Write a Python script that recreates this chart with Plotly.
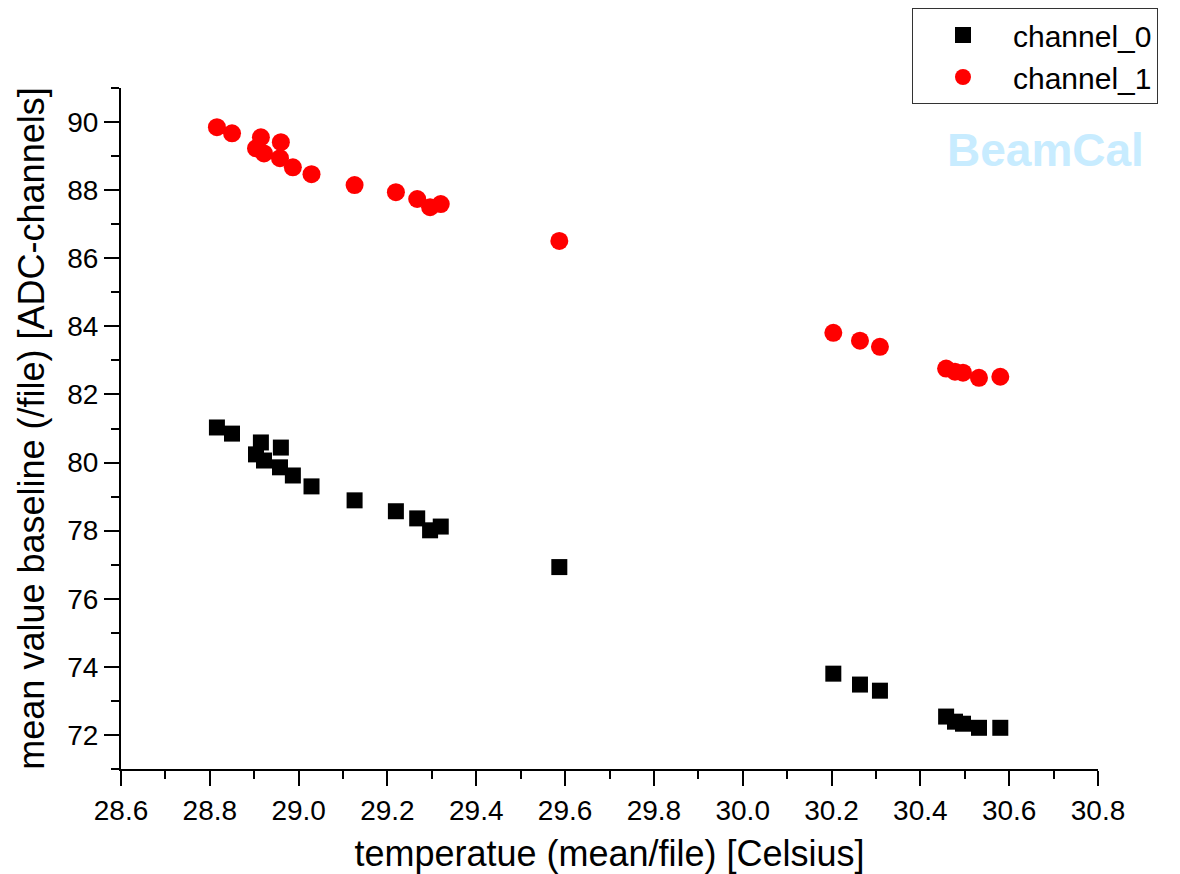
import plotly.graph_objects as go

temperature = [28.816, 28.850, 28.915, 28.904, 28.922, 28.960, 28.958, 28.987, 29.029,
               29.126, 29.219, 29.267, 29.296, 29.320, 29.587, 30.204, 30.264, 30.309,
               30.458, 30.478, 30.496, 30.532, 30.580]
channel_0 = [81.03, 80.85, 80.59, 80.24, 80.06, 80.44, 79.86, 79.62, 79.30,
             78.89, 78.57, 78.36, 78.01, 78.12, 76.93, 73.80, 73.48, 73.30,
             72.54, 72.39, 72.33, 72.21, 72.21]
channel_1 = [89.85, 89.67, 89.55, 89.23, 89.08, 89.41, 88.94, 88.67, 88.47,
             88.15, 87.94, 87.74, 87.50, 87.59, 86.51, 83.81, 83.58, 83.40,
             82.76, 82.67, 82.64, 82.49, 82.52]

FONT = "Liberation Sans, Arial, sans-serif"

fig = go.Figure()
fig.add_trace(go.Scatter(x=temperature, y=channel_0, mode="markers", name="channel_0",
                         marker=dict(symbol="square", size=16, color="black", line=dict(width=0))))
fig.add_trace(go.Scatter(x=temperature, y=channel_1, mode="markers", name="channel_1",
                         marker=dict(symbol="circle", size=18, color="#ff0000", line=dict(width=0))))

axis_common = dict(
    showline=True, linecolor="black", linewidth=2, mirror=False,
    ticks="outside", ticklen=15, tickwidth=2, tickcolor="black",
    showgrid=False, zeroline=False,
    tickfont=dict(family=FONT, size=28, color="black"),
)

fig.update_xaxes(range=[28.6, 30.8], dtick=0.2, tick0=28.6, tickformat=".1f",
                 minor=dict(dtick=0.1, ticks="outside", ticklen=8, tickwidth=2, tickcolor="black"),
                 title=dict(text="temperatue (mean/file) [Celsius]",
                            font=dict(family=FONT, size=36, color="black"), standoff=20),
                 **axis_common)
fig.update_yaxes(range=[71, 91], dtick=2, tick0=70,
                 minor=dict(dtick=1, ticks="outside", ticklen=8, tickwidth=2, tickcolor="black"),
                 title=dict(text="mean value baseline (/file) [ADC-channels]",
                            font=dict(family=FONT, size=36, color="black"), standoff=12),
                 **axis_common)

fig.add_annotation(text="<b>BeamCal</b>", xref="paper", yref="paper", x=0.9458, y=0.909,
                   showarrow=False, font=dict(family=FONT, size=46, color="#c8ecff"),
                   xanchor="center", yanchor="middle")

fig.update_layout(
    width=1180, height=874,
    margin=dict(l=121, r=82, t=88, b=105, autoexpand=False),
    plot_bgcolor="white", paper_bgcolor="white",
    showlegend=True,
    legend=dict(x=0.8096, y=1.1175, xanchor="left", yanchor="top",
                bordercolor="#333333", borderwidth=1, bgcolor="white",
                font=dict(family=FONT, size=30, color="black"),
                itemwidth=90, tracegroupgap=0),
)

fig.write_html("out.html")
